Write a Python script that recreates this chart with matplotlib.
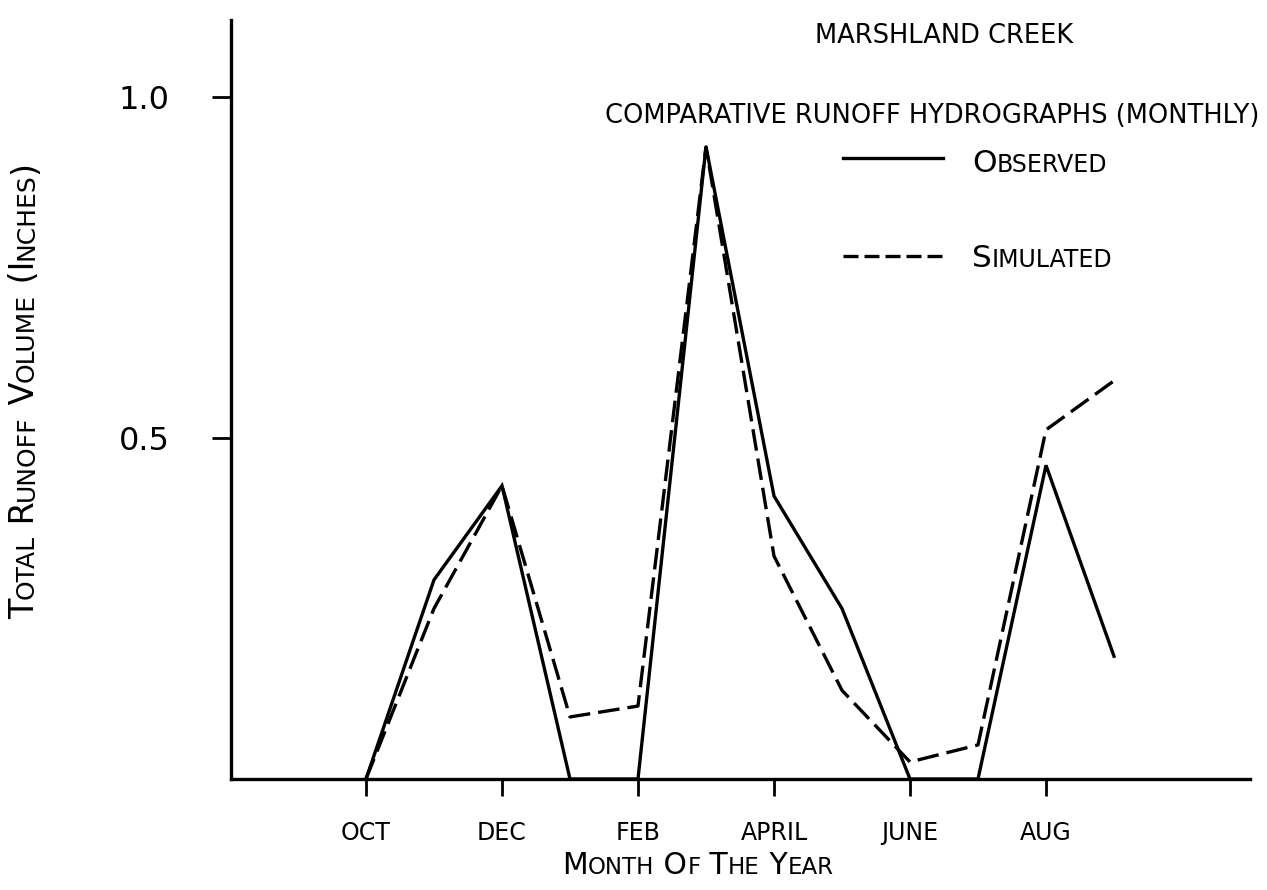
import matplotlib
matplotlib.use("Agg")
import matplotlib.pyplot as plt
from matplotlib.lines import Line2D
from matplotlib.transforms import IdentityTransform

# water year, Oct .. Sep
months = ["OCT", "NOV", "DEC", "JAN", "FEB", "MAR", "APRIL", "MAY", "JUNE", "JUL", "AUG", "SEP"]
observed = [0.0, 0.292, 0.43, 0.0, 0.0, 0.927, 0.415, 0.25, 0.0, 0.0, 0.46, 0.18]
simulated = [0.0, 0.25, 0.43, 0.091, 0.107, 0.927, 0.327, 0.13, 0.025, 0.05, 0.512, 0.584]
tick_months = ["OCT", "DEC", "FEB", "APRIL", "JUNE", "AUG"]
ytick_values = [0.5, 1.0]

W, H = 1267, 890

plt.rcParams["font.family"] = ["DejaVu Sans"]

fig = plt.figure(figsize=(W / 100, H / 100), dpi=100)
ax = fig.add_axes([231 / W, 1 - 779 / H, (1250 - 231) / W, (779 - 20) / H])

x = list(range(len(months)))
ax.plot(x, observed, color="black", lw=2.4, solid_joinstyle="miter")
ax.plot(x, simulated, color="black", lw=2.4, dashes=(6.5, 2.4))

ax.set_xlim(-1.985, 13.0)
ax.set_ylim(0, 1.113)

ax.set_xticks([months.index(m) for m in tick_months])
ax.set_xticklabels(tick_months, fontsize=17)
ax.set_yticks(ytick_values)
ax.set_yticklabels([f"{v:.1f}" for v in ytick_values], fontsize=23)
ax.tick_params(axis="x", direction="out", length=12, width=2, pad=18)
ax.tick_params(axis="y", direction="out", length=14, width=2, pad=30)

for side in ("top", "right"):
    ax.spines[side].set_visible(False)
for side in ("left", "bottom"):
    ax.spines[side].set_linewidth(2.4)

# legend keys only, the labels are drawn as small caps below
handles = [
    Line2D([], [], color="black", lw=2.4),
    Line2D([], [], color="black", lw=2.4, dashes=(4.5, 1.8)),
]
ax.legend(handles, ["", ""], loc="upper left", frameon=False,
          bbox_to_anchor=(843 / W, 1 - 146 / H), bbox_transform=fig.transFigure,
          borderpad=0, borderaxespad=0, handlelength=3.6, handletextpad=0.5,
          labelspacing=2.5, fontsize=20)

fig.text(944 / W, 1 - 43 / H, "MARSHLAND CREEK", fontsize=18.5, ha="center", va="baseline")
fig.text(932 / W, 1 - 123 / H, "COMPARATIVE RUNOFF HYDROGRAPHS (MONTHLY)",
         fontsize=18.5, ha="center", va="baseline")

renderer = fig.canvas.get_renderer()


def advance(s, size):
    probe = fig.text(0, 0, s + "|", fontsize=size)
    bar = fig.text(0, 0, "|", fontsize=size)
    w = probe.get_window_extent(renderer).width - bar.get_window_extent(renderer).width
    probe.remove()
    bar.remove()
    return w


def small_caps(text, x, y, big, small, rotation=0, center=False):
    # x, y: start of the baseline, pixels from the top-left corner
    runs = []
    for ch in text:
        kind = "small" if ch.islower() else "big"
        if runs and runs[-1][0] == kind:
            runs[-1][1] += ch
        else:
            runs.append([kind, ch])
    sized = [(s.upper(), big if k == "big" else small) for k, s in runs]
    steps = [advance(s, sz) for s, sz in sized]
    pos = 0.0
    if center:
        pos = -sum(steps) / 2
    for (s, sz), step in zip(sized, steps):
        if rotation == 90:
            px, py = x, H - y + pos
        else:
            px, py = x + pos, H - y
        fig.text(px, py, s, fontsize=sz, rotation=rotation, rotation_mode="anchor",
                 ha="left", va="baseline", transform=IdentityTransform())
        pos += step


small_caps("Observed", 972, 172, 22.5, 17)
small_caps("Simulated", 972, 267, 22.5, 17)
small_caps("Month Of The Year", 698, 874, 21.5, 16.5, center=True)
small_caps("Total Runoff Volume (Inches)", 34, 390, 24, 18, rotation=90, center=True)

fig.savefig("out.png", dpi=100)
